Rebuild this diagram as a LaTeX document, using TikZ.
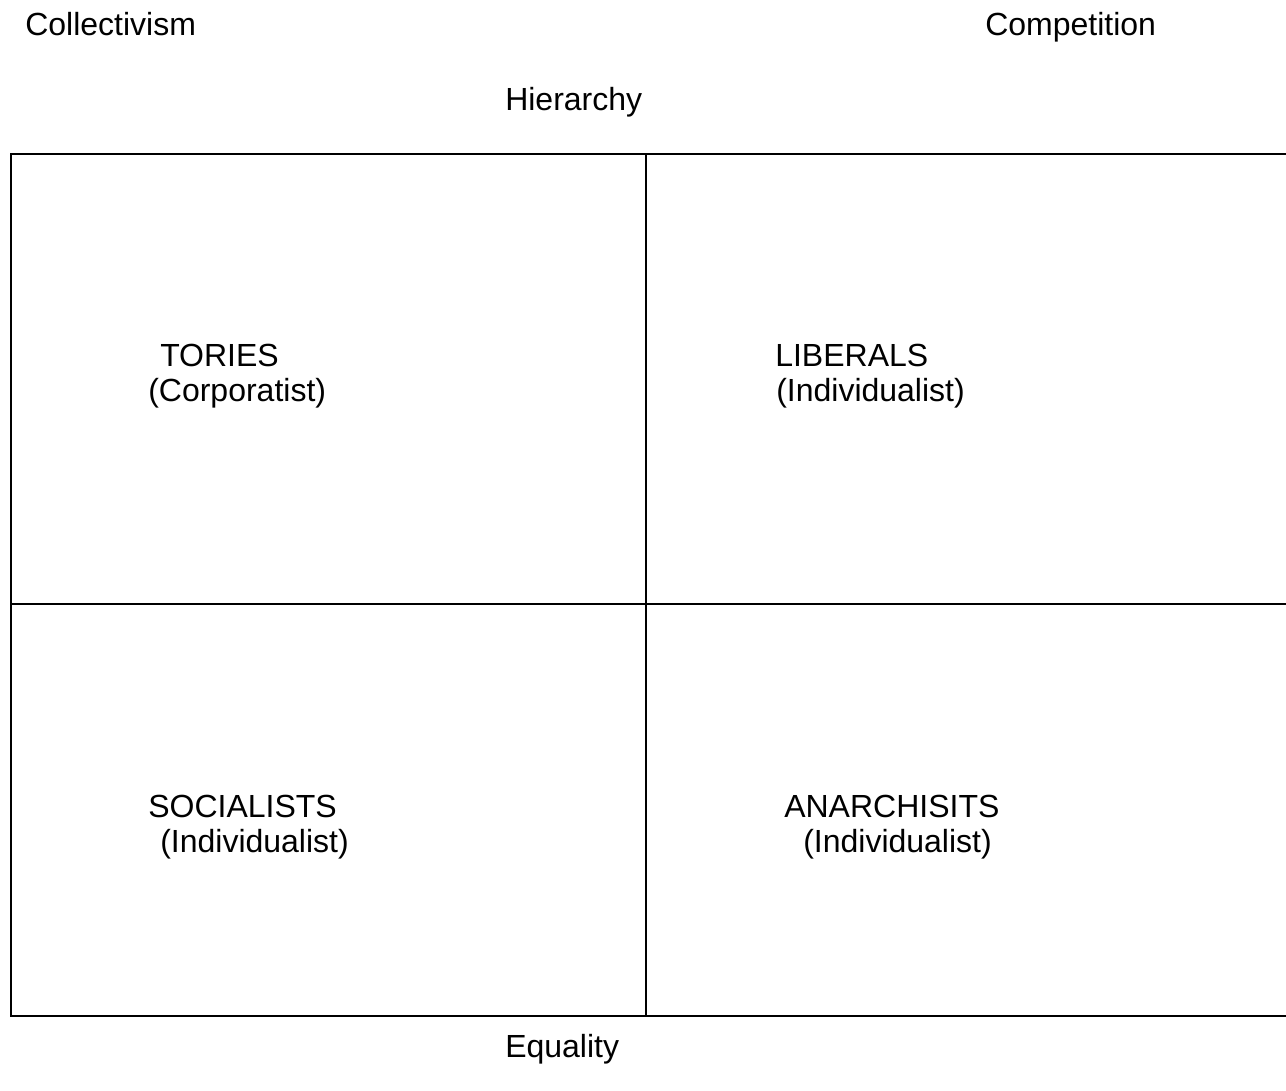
\documentclass[tikz,border=0pt]{standalone}
\usepackage{fontspec}
\setmainfont{Liberation Sans}
\begin{document}
\begin{tikzpicture}[x=0.75pt, y=-0.75pt, lbl/.style={anchor=base west, inner sep=0pt, font=\fontsize{24}{29}\selectfont}]
% \tikzset{every node/.style={draw}}
\useasboundingbox (0,0) rectangle (1286,1091);
\draw[line width=1.5pt] (1286,154) -- (11,154) -- (11,1016) -- (1286,1016);
\draw[line width=1.5pt] (11,604) -- (1286,604);
\draw[line width=1.5pt] (646,154) -- (646,1016);
\node[lbl] (coll) at (25,36) {Collectivism};
\node[lbl] (comp) at (985,36) {Competition};
\node[lbl] (hier) at (505,111) {Hierarchy};
\node[lbl] (tor) at (160,367) {TORIES};
\node[lbl] (torb) at (148,402) {(Corporatist)};
\node[lbl] (lib) at (775,367) {LIBERALS};
\node[lbl] (libb) at (776,402) {(Individualist)};
\node[lbl] (soc) at (148,817) {SOCIALISTS};
\node[lbl] (socb) at (160,852) {(Individualist)};
\node[lbl] (ana) at (784,817) {ANARCHISITS};
\node[lbl] (anab) at (803,852) {(Individualist)};
\node[lbl] (equ) at (505,1057) {Equality};
\end{tikzpicture}
\end{document}
